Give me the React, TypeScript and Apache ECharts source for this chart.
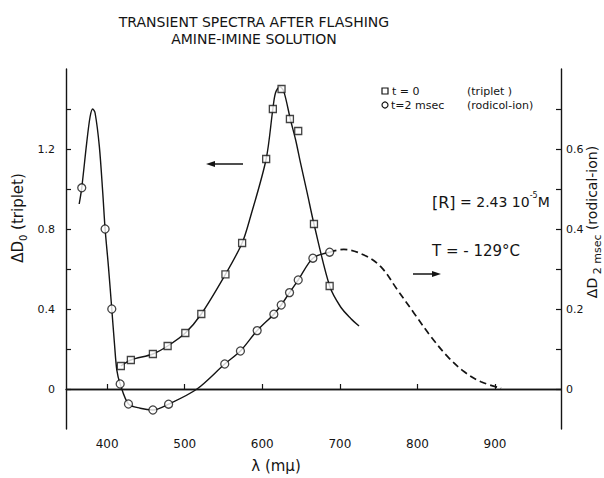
import React, { useEffect, useRef } from 'react';
import * as echarts from 'echarts';

// Axis ticks / labels
const X_TICKS = [400, 500, 600, 700, 800, 900];
const LEFT_TICKS = [0, 0.2, 0.4, 0.6, 0.8, 1.0, 1.2, 1.4];
const LEFT_LABELS = [0, 0.4, 0.8, 1.2];
const RIGHT_TICKS = [0, 0.1, 0.2, 0.3, 0.4, 0.5, 0.6, 0.7];
const RIGHT_LABELS = [0, 0.2, 0.4, 0.6];

// Triplet (t = 0), left axis — measured points (squares)
const TRIPLET_MARK_WL = [417.7, 430.6, 459, 478, 500.8, 521.4, 552.5, 574, 605, 613.6, 624.8, 635.6, 646.3, 666.6, 686.8];
const TRIPLET_MARK_OD = [0.115, 0.145, 0.175, 0.215, 0.28, 0.375, 0.573, 0.73, 1.15, 1.40, 1.50, 1.35, 1.29, 0.825, 0.515];
// Triplet drawn curve
const TRIPLET_CURVE_WL = [417.7, 430.6, 459, 478, 500.8, 521.4, 552.5, 574, 584.7, 605, 613.6, 617, 622.6, 627.8, 636.4, 643, 649.4, 658, 666.6, 686.8, 701, 714, 724.7];
const TRIPLET_CURVE_OD = [0.115, 0.145, 0.175, 0.215, 0.28, 0.375, 0.573, 0.73, 0.86, 1.15, 1.40, 1.48, 1.512, 1.487, 1.345, 1.245, 1.128, 0.978, 0.825, 0.515, 0.41, 0.353, 0.315];

// Radical-ion (t = 2 msec), right axis — measured points (circles)
const RADICAL_MARK_WL = [367.3, 397.4, 406, 416.8, 427.5, 459, 479.2, 551.6, 571.8, 593.4, 614.9, 624.4, 635.1, 646.3, 665.2, 686.8];
const RADICAL_MARK_OD = [0.503, 0.40, 0.20, 0.0125, -0.0375, -0.0525, -0.038, 0.0625, 0.095, 0.146, 0.187, 0.21, 0.241, 0.2725, 0.327, 0.342];
// Radical-ion drawn curve (solid)
const RADICAL_CURVE_WL = [364, 367.3, 373.6, 378, 381.4, 384.5, 390, 394.4, 397.4, 401.7, 406, 409.4, 412.5, 416.8, 427.5, 442.6, 459, 479.2, 515.8, 551.6, 571.8, 593.4, 614.9, 624.4, 635.1, 646.3, 665.2, 686.8];
const RADICAL_CURVE_OD = [0.4625, 0.503, 0.614, 0.68, 0.70, 0.69, 0.606, 0.49, 0.40, 0.306, 0.20, 0.115, 0.047, 0.0125, -0.0375, -0.048, -0.0525, -0.038, 0.0, 0.0625, 0.095, 0.146, 0.187, 0.21, 0.241, 0.2725, 0.327, 0.342];
// Radical-ion extrapolated curve (dashed)
const RADICAL_DASH_WL = [686.8, 705, 731, 752.7, 774.3, 795.8, 817.3, 838.9, 860.4, 881.9, 907.8];
const RADICAL_DASH_OD = [0.342, 0.349, 0.335, 0.306, 0.2475, 0.189, 0.131, 0.081, 0.043, 0.018, 0.002];

const INK = '#141414';
const FONT = 'DejaVu Sans';

const zip = (a: number[], b: number[]) => a.map((v, i) => [v, b[i]]);

export default function App() {
  const ref = useRef<HTMLDivElement>(null);
  useEffect(() => {
    if (!ref.current) return;
    const chart = echarts.init(ref.current, null, { renderer: 'svg' });
    const axisCommon = {
      axisLine: { show: true, lineStyle: { color: INK, width: 1.4 } },
      splitLine: { show: false },
    };
    chart.setOption({
      animation: false,
      backgroundColor: '#ffffff',
      title: {
        text: 'TRANSIENT SPECTRA AFTER FLASHING\nAMINE-IMINE SOLUTION',
        left: 249,
        top: 8,
        textAlign: 'center',
        textStyle: { fontFamily: FONT, fontSize: 14, fontWeight: 'normal', color: INK, lineHeight: 17 },
      },
      grid: { left: 66, right: 43, top: 69, bottom: 49 },
      xAxis: {
        type: 'value',
        min: 347,
        max: 985,
        ...axisCommon,
        axisTick: { show: true, inside: true, length: 5, customValues: X_TICKS, lineStyle: { color: INK, width: 1.2 } },
        axisLabel: { customValues: X_TICKS, margin: 9, color: INK, fontFamily: FONT, fontSize: 12 },
      },
      yAxis: [
        {
          type: 'value',
          min: -0.2,
          max: 1.6,
          interval: 0.2,
          position: 'left',
          ...axisCommon,
          axisTick: { show: true, inside: true, length: 5, customValues: LEFT_TICKS, lineStyle: { color: INK, width: 1.2 } },
          axisLabel: { customValues: LEFT_LABELS, margin: 11, color: INK, fontFamily: FONT, fontSize: 11 },
        },
        {
          type: 'value',
          min: -0.1,
          max: 0.8,
          interval: 0.1,
          position: 'right',
          ...axisCommon,
          axisTick: { show: true, inside: true, length: 5, customValues: RIGHT_TICKS, lineStyle: { color: INK, width: 1.2 } },
          axisLabel: { customValues: RIGHT_LABELS, margin: 5, color: INK, fontFamily: FONT, fontSize: 11 },
        },
      ],
      series: [
        {
          type: 'line',
          yAxisIndex: 0,
          data: zip(TRIPLET_CURVE_WL, TRIPLET_CURVE_OD),
          smooth: 0.3,
          showSymbol: false,
          symbol: 'none',
          lineStyle: { color: INK, width: 1.4 },
          z: 2,
        },
        {
          type: 'line',
          yAxisIndex: 1,
          data: zip(RADICAL_CURVE_WL, RADICAL_CURVE_OD),
          smooth: 0.3,
          showSymbol: false,
          symbol: 'none',
          lineStyle: { color: INK, width: 1.4 },
          z: 2,
          markLine: {
            silent: true,
            symbol: 'none',
            label: { show: false },
            lineStyle: { type: 'solid', color: INK, width: 1.3 },
            data: [{ yAxis: 0 }],
          },
        },
        {
          type: 'line',
          yAxisIndex: 1,
          data: zip(RADICAL_DASH_WL, RADICAL_DASH_OD),
          smooth: 0.35,
          showSymbol: false,
          symbol: 'none',
          lineStyle: { color: INK, width: 1.7, type: [7, 4] },
          z: 2,
        },
        {
          type: 'scatter',
          yAxisIndex: 0,
          data: zip(TRIPLET_MARK_WL, TRIPLET_MARK_OD),
          symbol: 'rect',
          symbolSize: 7,
          itemStyle: { color: '#ffffff', borderColor: INK, borderWidth: 1.3 },
          z: 4,
        },
        {
          type: 'scatter',
          yAxisIndex: 1,
          data: zip(RADICAL_MARK_WL, RADICAL_MARK_OD),
          symbol: 'circle',
          symbolSize: 8,
          itemStyle: { color: '#ffffff', borderColor: INK, borderWidth: 1.3 },
          z: 4,
        },
      ],
      graphic: [
        // x-axis name
        {
          type: 'text', x: 276, y: 466,
          style: { text: 'λ (mμ)', font: `15px "${FONT}"`, fill: INK, textAlign: 'center', textVerticalAlign: 'middle' },
        },
        // left axis name
        {
          type: 'text', x: 18, y: 218, rotation: Math.PI / 2,
          style: {
            text: '{a|ΔD}{s|0}{a| (triplet)}',
            textAlign: 'center', textVerticalAlign: 'middle', fill: INK,
            rich: {
              a: { fontFamily: FONT, fontSize: 15, fill: INK, lineHeight: 20, verticalAlign: 'middle' },
              s: { fontFamily: FONT, fontSize: 10, fill: INK, lineHeight: 20, verticalAlign: 'bottom' },
            },
          },
        },
        // right axis name
        {
          type: 'text', x: 592, y: 222, rotation: Math.PI / 2,
          style: {
            text: '{a|ΔD}{s| 2 msec}{a| (rodical-ion)}',
            textAlign: 'center', textVerticalAlign: 'middle', fill: INK,
            rich: {
              a: { fontFamily: FONT, fontSize: 14, fill: INK, lineHeight: 22, verticalAlign: 'middle' },
              s: { fontFamily: FONT, fontSize: 11, fill: INK, lineHeight: 22, verticalAlign: 'bottom' },
            },
          },
        },
        // legend
        { type: 'rect', shape: { x: 382, y: 88, width: 6, height: 6 }, style: { fill: '#fff', stroke: INK, lineWidth: 1.2 } },
        { type: 'text', x: 392, y: 91, style: { text: 't = 0', font: `11px "${FONT}"`, fill: INK, textVerticalAlign: 'middle' } },
        { type: 'text', x: 467, y: 91, style: { text: '(triplet )', font: `11px "${FONT}"`, fill: INK, textVerticalAlign: 'middle' } },
        { type: 'circle', shape: { cx: 385, cy: 105, r: 3 }, style: { fill: '#fff', stroke: INK, lineWidth: 1.2 } },
        { type: 'text', x: 391, y: 105, style: { text: 't=2 msec', font: `11px "${FONT}"`, fill: INK, textVerticalAlign: 'middle' } },
        { type: 'text', x: 467, y: 105, style: { text: '(rodicol-ion)', font: `11px "${FONT}"`, fill: INK, textVerticalAlign: 'middle' } },
        // annotations
        {
          type: 'text', x: 432, y: 202,
          style: {
            text: '{b|[R]}{n| = 2.43 10}{s|-5}{n|M}',
            textVerticalAlign: 'middle', fill: INK,
            rich: {
              b: { fontFamily: FONT, fontSize: 16, fill: INK, lineHeight: 22, verticalAlign: 'middle' },
              n: { fontFamily: FONT, fontSize: 14, fill: INK, lineHeight: 22, verticalAlign: 'middle' },
              s: { fontFamily: FONT, fontSize: 8, fill: INK, lineHeight: 22, verticalAlign: 'top' },
            },
          },
        },
        {
          type: 'text', x: 432, y: 251,
          style: { text: 'T = - 129°C', font: `15px "${FONT}"`, fill: INK, textVerticalAlign: 'middle' },
        },
        // arrows
        { type: 'line', shape: { x1: 212, y1: 164, x2: 243, y2: 164 }, style: { stroke: INK, lineWidth: 1.5 } },
        { type: 'polygon', shape: { points: [[206, 164], [215, 161], [215, 167]] }, style: { fill: INK } },
        { type: 'line', shape: { x1: 413, y1: 274, x2: 434, y2: 274 }, style: { stroke: INK, lineWidth: 1.5 } },
        { type: 'polygon', shape: { points: [[441, 274], [432, 271], [432, 277]] }, style: { fill: INK } },
      ],
    });
    return () => chart.dispose();
  }, []);
  return <div ref={ref} style={{ position: 'fixed', left: 0, top: 0, width: 604, height: 478, background: '#fff' }} />;
}
